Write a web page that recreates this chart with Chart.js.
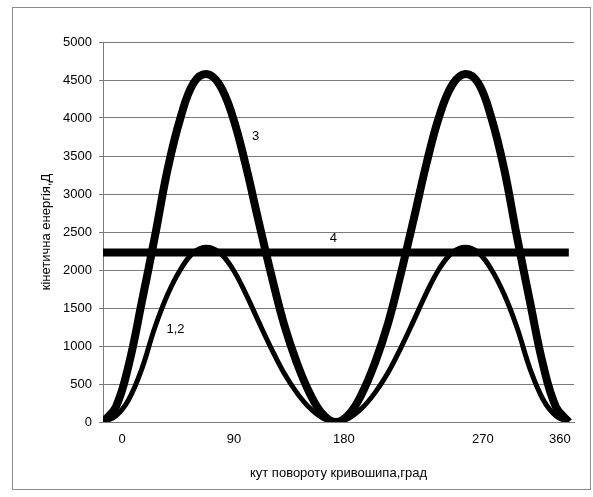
<!DOCTYPE html>
<html>
<head>
<meta charset="utf-8">
<script src="https://cdn.jsdelivr.net/npm/chart.js@4"></script>
<style>
  body { margin: 0; background: #fff; }
  canvas { display: block; }
</style>
</head>
<body>
<canvas id="chart" width="593" height="497"></canvas>
<script>
// angle of crank, degrees
const angles = [0, 10, 20, 30, 40, 50, 60, 70, 80, 90, 100, 110, 120, 130, 140, 150, 160, 170, 180,
  190, 200, 210, 220, 230, 240, 250, 260, 270, 280, 290, 300, 310, 320, 330, 340, 350, 360];

// curve 3 (thick)
const curve3 = [0, 200, 760, 1580, 2430, 3330, 4010, 4460, 4580, 4440, 4030, 3400, 2660, 1940, 1280, 770, 370, 100, 0,
  100, 370, 770, 1280, 1940, 2660, 3400, 4030, 4440, 4580, 4460, 4010, 3330, 2430, 1580, 760, 200, 0];

// curves 1,2
const curve12 = [0, 80, 300, 700, 1240, 1680, 2010, 2230, 2300, 2230, 2020, 1700, 1330, 970, 640, 380, 180, 50, 0,
  50, 180, 380, 640, 970, 1330, 1700, 2020, 2230, 2300, 2230, 2010, 1680, 1240, 700, 300, 80, 0];

// line 4
const line4Angles = [0, 360];
const line4Values = [2230, 2230];

// x tick labels and where they sit on the axis
const xTickLabels = ["0", "90", "180", "270", "360"];
const xTickAt = [14.7, 101.2, 186.2, 293.6, 353];

// curve numbers written on the plot
const noteText = ["3", "4", "1,2"];
const noteX = [118, 178, 56];
const noteY = [3760, 2420, 1220];

const FONT = "'Liberation Sans', Arial, sans-serif";
const GRID = "#7a7a7a";

function pts(xs, ys) {
  return ys.map((v, i) => ({ x: xs[i], y: v }));
}

const frame = {
  id: "frame",
  beforeDraw(chart) {
    const c = chart.ctx;
    c.save();
    c.fillStyle = "#fff";
    c.fillRect(0, 0, chart.width, chart.height);
    c.strokeStyle = "#8c8c8c";
    c.lineWidth = 1;
    c.strokeRect(12.5, 7.5, 578, 482);
    c.restore();
  },
  afterDatasetsDraw(chart) {
    const c = chart.ctx;
    const xs = chart.scales.x, ys = chart.scales.y;
    c.save();
    c.fillStyle = "#000";
    c.font = "13px " + FONT;
    c.textAlign = "center";
    c.textBaseline = "middle";
    noteText.forEach((t, i) => {
      c.fillText(t, xs.getPixelForValue(noteX[i]), ys.getPixelForValue(noteY[i]));
    });
    c.restore();
  }
};

new Chart(document.getElementById("chart"), {
  type: "line",
  data: {
    datasets: [
      {
        label: "3",
        data: pts(angles, curve3),
        borderColor: "#000",
        borderWidth: 8,
        tension: 0.4,
        pointRadius: 0,
      },
      {
        label: "1,2",
        data: pts(angles, curve12),
        borderColor: "#000",
        borderWidth: 5,
        tension: 0.4,
        pointRadius: 0,
      },
      {
        label: "4",
        data: pts(line4Angles, line4Values),
        borderColor: "#000",
        borderWidth: 8,
        pointRadius: 0,
      },
    ],
  },
  options: {
    responsive: false,
    animation: false,
    events: [],
    layout: { padding: { top: 42, right: 19, left: 0, bottom: 0 } },
    plugins: { legend: { display: false }, tooltip: { enabled: false } },
    scales: {
      x: {
        type: "linear",
        min: 0,
        max: 364,
        afterFit: (s) => { s.height = 75; },
        afterBuildTicks: (s) => { s.ticks = xTickAt.map((v) => ({ value: v })); },
        grid: { display: false, drawTicks: false },
        border: { display: true, color: GRID },
        ticks: {
          autoSkip: false,
          maxRotation: 0,
          padding: 10,
          color: "#000",
          font: { family: FONT, size: 13 },
          callback: (v, i) => xTickLabels[i],
        },
        title: {
          display: true,
          text: "кут повороту кривошипа,град",
          color: "#000",
          font: { family: FONT, size: 13 },
          padding: { top: 0, bottom: 16 },
        },
      },
      y: {
        min: 0,
        max: 5000,
        afterFit: (s) => { s.width = 103; },
        grid: { color: GRID, tickLength: 4 },
        border: { display: true, color: GRID },
        ticks: {
          stepSize: 500,
          padding: 7,
          color: "#000",
          font: { family: FONT, size: 13 },
          callback: (v) => String(v),
        },
        title: {
          display: true,
          text: "кінетична енергія,Д",
          color: "#000",
          font: { family: FONT, size: 13 },
          padding: { top: 39, bottom: 0 },
        },
      },
    },
  },
  plugins: [frame],
});
</script>
</body>
</html>
